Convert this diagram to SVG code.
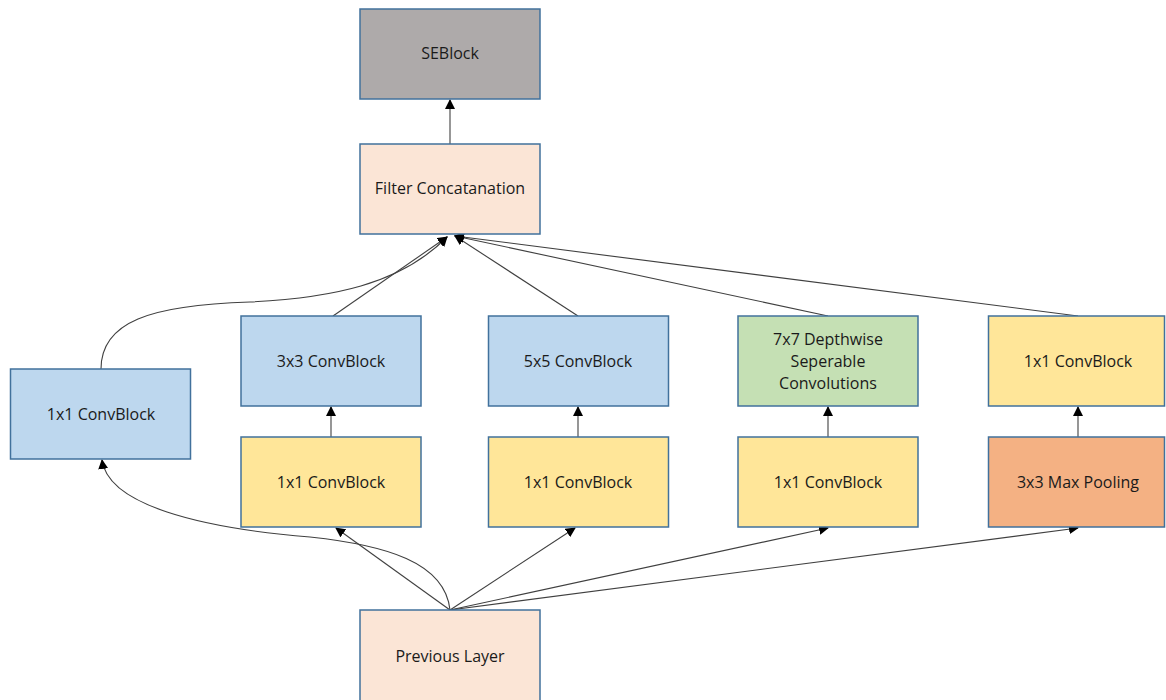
<svg xmlns="http://www.w3.org/2000/svg" width="1166" height="700" viewBox="0 0 1166 700">
  <style>
    .box { stroke: #41719C; stroke-width: 1.5; }
    .gray { fill: #AEAAAA; }
    .peach { fill: #FBE5D6; }
    .blue { fill: #BDD7EE; }
    .yellow { fill: #FFE699; }
    .green { fill: #C5E0B4; }
    .orange { fill: #F4B183; }
    text { font-family: "Open Sans", "Liberation Sans", sans-serif; font-size: 16px; fill: #1a1a1a; text-anchor: middle; dominant-baseline: central; }
    .edge { fill: none; stroke: #404040; stroke-width: 1.1; marker-end: url(#arrow); }
  </style>
  <defs>
    <marker id="arrow" viewBox="0 0 10 10" refX="9" refY="5" markerWidth="10" markerHeight="10" markerUnits="userSpaceOnUse" orient="auto">
      <path d="M0,0 L10,5 L0,10 z" fill="#000"/>
    </marker>
  </defs>

  <g id="connectors">
    <!-- previous layer fan-out -->
    <path class="edge" d="M450,610 C445,562 385,545 310,537 C200,528 108,505 102,460"/>
    <path class="edge" d="M450,610 L336,528"/>
    <path class="edge" d="M450,610 L575,528"/>
    <path class="edge" d="M450,610 L828,528"/>
    <path class="edge" d="M450,610 L1078,528"/>
    <!-- inner branch links -->
    <path class="edge" d="M331,437 L331,407"/>
    <path class="edge" d="M578,437 L578,407"/>
    <path class="edge" d="M828,437 L828,407"/>
    <path class="edge" d="M1078,437 L1078,407"/>
    <!-- branches into concatenation -->
    <path class="edge" d="M101,369 C101,322 150,305 250,302 C330,298 400,285 447,237"/>
    <path class="edge" d="M333,316 L447,237"/>
    <path class="edge" d="M578,316 L455,236"/>
    <path class="edge" d="M828,316 L455,236"/>
    <path class="edge" d="M1078,316 L455,236"/>
    <!-- concatenation to SE block -->
    <path class="edge" d="M450,144 L450,100"/>
  </g>

  <g id="seblock">
    <rect class="box gray" x="360" y="9" width="180" height="90"/>
    <text x="450" y="53">SEBlock</text>
  </g>
  <g id="filter-concat">
    <rect class="box peach" x="360" y="144" width="180" height="90"/>
    <text x="450" y="188">Filter Concatanation</text>
  </g>

  <g id="conv1x1-a">
    <rect class="box blue" x="10.5" y="369" width="180" height="90"/>
    <text x="101" y="414">1x1 ConvBlock</text>
  </g>

  <g id="conv3x3">
    <rect class="box blue" x="241" y="316" width="180" height="90"/>
    <text x="331" y="361">3x3 ConvBlock</text>
  </g>
  <g id="conv1x1-b">
    <rect class="box yellow" x="241" y="437" width="180" height="90"/>
    <text x="331" y="482">1x1 ConvBlock</text>
  </g>

  <g id="conv5x5">
    <rect class="box blue" x="488.5" y="316" width="180" height="90"/>
    <text x="578" y="361">5x5 ConvBlock</text>
  </g>
  <g id="conv1x1-c">
    <rect class="box yellow" x="488.5" y="437" width="180" height="90"/>
    <text x="578" y="482">1x1 ConvBlock</text>
  </g>

  <g id="dwsep7x7">
    <rect class="box green" x="738" y="316" width="180" height="90"/>
    <text x="828" y="339">7x7 Depthwise</text>
    <text x="828" y="361">Seperable</text>
    <text x="828" y="383">Convolutions</text>
  </g>
  <g id="conv1x1-d">
    <rect class="box yellow" x="738" y="437" width="180" height="90"/>
    <text x="828" y="482">1x1 ConvBlock</text>
  </g>

  <g id="conv1x1-e">
    <rect class="box yellow" x="988.5" y="316" width="176" height="90"/>
    <text x="1078" y="361">1x1 ConvBlock</text>
  </g>
  <g id="maxpool3x3">
    <rect class="box orange" x="988.5" y="437" width="176" height="90"/>
    <text x="1078" y="482">3x3 Max Pooling</text>
  </g>

  <g id="previous-layer">
    <rect class="box peach" x="360" y="610" width="180" height="96"/>
    <text x="450" y="656">Previous Layer</text>
  </g>
</svg>
